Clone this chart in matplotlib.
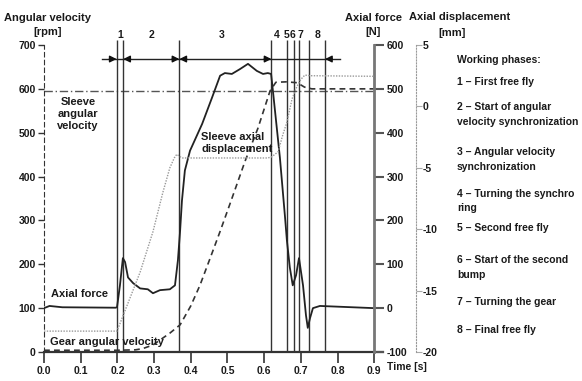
import matplotlib
matplotlib.use("Agg")
import matplotlib.pyplot as plt

plt.rcParams['font.family'] = ['Liberation Sans Narrow', 'Liberation Sans', 'DejaVu Sans']
plt.rcParams['font.weight'] = 'bold'
plt.rcParams['axes.unicode_minus'] = False

# phase boundaries [s]
phase_lines = [0.198, 0.216, 0.369, 0.620, 0.661, 0.681, 0.696, 0.722, 0.766]
phase_names = ['1', '2', '3', '4', '5', '6', '7', '8']
phase_label_x = [0.207, 0.292, 0.485, 0.635, 0.662, 0.678, 0.698, 0.747]

# axial force [N]
force_t = [0.0, 0.015, 0.05, 0.195, 0.199, 0.207, 0.215, 0.221, 0.229, 0.243, 0.262,
           0.283, 0.297, 0.316, 0.343, 0.357, 0.365, 0.371, 0.376, 0.384, 0.398,
           0.431, 0.458, 0.480, 0.493, 0.512, 0.534, 0.556, 0.580, 0.597, 0.610,
           0.619, 0.624, 0.643, 0.657, 0.662, 0.670, 0.678, 0.687, 0.695, 0.706,
           0.714, 0.719, 0.725, 0.733, 0.752, 0.9]
force_N = [0, 5, 2, 1, 2, 52, 114, 105, 70, 57, 45,
           43, 34, 41, 43, 52, 109, 177, 245, 314, 359,
           420, 480, 530, 536, 534, 545, 557, 541, 534, 536,
           534, 495, 343, 207, 155, 93, 52, 75, 114, 52,
           -16, -45, -23, 0, 5, 0]

# gear angular velocity [rpm]
gear_t = [0.0, 0.1, 0.2, 0.25, 0.27, 0.297, 0.343, 0.371, 0.40, 0.425, 0.452, 0.48,
          0.507, 0.548, 0.583, 0.616, 0.632, 0.66, 0.69, 0.71, 0.73, 0.9]
gear_rpm = [4, 4, 4, 5, 8, 16, 43, 62, 105, 152, 212, 275,
            338, 435, 510, 595, 615, 616, 614, 604, 600, 600]

# sleeve angular velocity [rpm]
sleeve_t = [0.0, 0.9]
sleeve_rpm = [596, 596]

# sleeve axial displacement [mm]
disp_t = [0.0, 0.199, 0.262, 0.297, 0.324, 0.343, 0.355, 0.362, 0.376, 0.45, 0.55,
          0.61, 0.621, 0.638, 0.651, 0.662, 0.676, 0.689, 0.70, 0.711, 0.725, 0.9]
disp_mm = [-18.3, -18.3, -13.5, -10.2, -7.0, -5.0, -4.2, -3.9, -4.2, -4.2, -4.2,
           -4.2, -4.1, -3.7, -2.3, -1.3, 0.6, 1.6, 2.2, 2.55, 2.5, 2.45]

legend_lines = ['Working phases:', '1 \u2013 First free fly', '2 \u2013 Start of angular',
                'velocity synchronization', '3 \u2013 Angular velocity', 'synchronization',
                '4 \u2013 Turning the synchro', 'ring', '5 \u2013 Second free fly',
                '6 \u2013 Start of the second', 'bump', '7 \u2013 Turning the gear',
                '8 \u2013 Final free fly']
legend_y = [60, 82, 107, 122, 152, 167, 194, 208, 228, 260, 275, 302, 330]

W, H = 582, 381
fig = plt.figure(figsize=(W / 100, H / 100), dpi=100)


def px(x, y):
    return x / W, 1 - y / H


txt = '#1a1a1a'
ax = fig.add_axes([44 / W, (H - 352) / H, (383 - 44) / W, (352 - 45) / H])
ax.set_xlim(0, 0.924)
ax.set_ylim(0, 700)
for s in ['top', 'right']:
    ax.spines[s].set_visible(False)
ax.spines['left'].set_linestyle((0, (4, 3)))
ax.spines['left'].set_color('#333333')
ax.spines['bottom'].set_color('#333333')
ax.spines['bottom'].set_linewidth(1.6)
ax.set_xticks([i / 10 for i in range(10)])
ax.set_xticklabels(['%.1f' % (i / 10) for i in range(10)])
ax.set_yticks(range(0, 701, 100))
ax.tick_params(axis='x', direction='out', length=8, width=1.2, pad=2,
               labelsize=7.5, colors='#333333', labelcolor=txt)
ax.tick_params(axis='y', direction='out', length=4, width=1, pad=2,
               labelsize=7.5, colors='#333333', labelcolor=txt)

# sleeve and gear angular velocity
ax.plot(sleeve_t, sleeve_rpm, color='#555555', lw=1.0, ls=(0, (6, 2, 1, 2)))
ax.plot(gear_t, gear_rpm, color='#333333', lw=1.2, ls=(0, (3.5, 2.5)))

# phase lines and arrows
ax.vlines(phase_lines, 0, 712, color='#333333', lw=1.0, clip_on=False)
arrow_y = 668
ax.plot([0.158, 0.807], [arrow_y, arrow_y], color='#222222', lw=1.0)
heads = [(phase_lines[0], 1), (phase_lines[1], -1), (phase_lines[2], 1),
         (phase_lines[2], -1), (phase_lines[3], 1), (phase_lines[8], -1)]
for tip, d in heads:
    ax.annotate('', xy=(tip, arrow_y), xytext=(tip - d * 0.02, arrow_y),
                arrowprops=dict(arrowstyle='-|>', color='#111111', lw=1.0,
                                mutation_scale=10, shrinkA=0, shrinkB=0))
for x, name in zip(phase_label_x, phase_names):
    ax.text(x, 722, name, ha='center', va='center', fontsize=7.5, color=txt,
            clip_on=False)

# axial force axis
ax2 = ax.twinx()
ax2.set_ylim(-100, 600)
for s in ['top', 'left', 'bottom']:
    ax2.spines[s].set_visible(False)
ax2.spines['right'].set_position(('data', 0.9))
ax2.spines['right'].set_bounds(-100, 600)
ax2.spines['right'].set_color('#777777')
ax2.spines['right'].set_linewidth(2)
ax2.set_yticks(range(-100, 601, 100))
ax2.tick_params(axis='y', direction='out', length=7, width=1.5, pad=2,
                labelsize=7.5, colors='#555555', labelcolor=txt)
ax2.plot(force_t, force_N, color='#222222', lw=1.3)

# axial displacement axis
ax3 = ax.twinx()
ax3.set_ylim(-20, 5)
for s in ['top', 'left', 'bottom']:
    ax3.spines[s].set_visible(False)
ax3.spines['right'].set_position(('axes', (416 - 44) / (383 - 44)))
ax3.spines['right'].set_linestyle(':')
ax3.spines['right'].set_color('#999999')
ax3.set_yticks(range(-20, 6, 5))
ax3.tick_params(axis='y', direction='out', length=4, width=0.8, pad=1,
                labelsize=7.5, colors='#aaaaaa', labelcolor=txt)
ax3.plot(disp_t, disp_mm, color='#999999', lw=1.0, ls=(0, (1, 1)))

# axis titles
fig.text(*px(48, 25), 'Angular velocity\n[rpm]', ha='center', va='center',
         fontsize=8, color=txt, linespacing=1.4)
fig.text(*px(373, 25), 'Axial force\n[N]', ha='center', va='center',
         fontsize=8, color=txt, linespacing=1.4)
fig.text(*px(460, 17), 'Axial displacement', ha='center', va='center',
         fontsize=8, color=txt)
fig.text(*px(452, 33), '[mm]', ha='center', va='center', fontsize=8, color=txt)
fig.text(*px(387, 367), 'Time [s]', ha='left', va='center', fontsize=7.5, color=txt)

# curve labels
fig.text(*px(78, 114), 'Sleeve\nangular\nvelocity', ha='center', va='center',
         fontsize=8, color=txt, linespacing=1.2)
fig.text(*px(201, 143), 'Sleeve axial\ndisplacement', ha='left', va='center',
         fontsize=8, color=txt, linespacing=1.2)
fig.text(*px(51, 294), 'Axial force', ha='left', va='center', fontsize=8, color=txt)
fig.text(*px(50, 342), 'Gear angular velocity', ha='left', va='center',
         fontsize=8, color=txt)

for line, y in zip(legend_lines, legend_y):
    fig.text(*px(457, y), line, ha='left', va='center', fontsize=7.5, color=txt)

fig.savefig('out.png', dpi=100)
